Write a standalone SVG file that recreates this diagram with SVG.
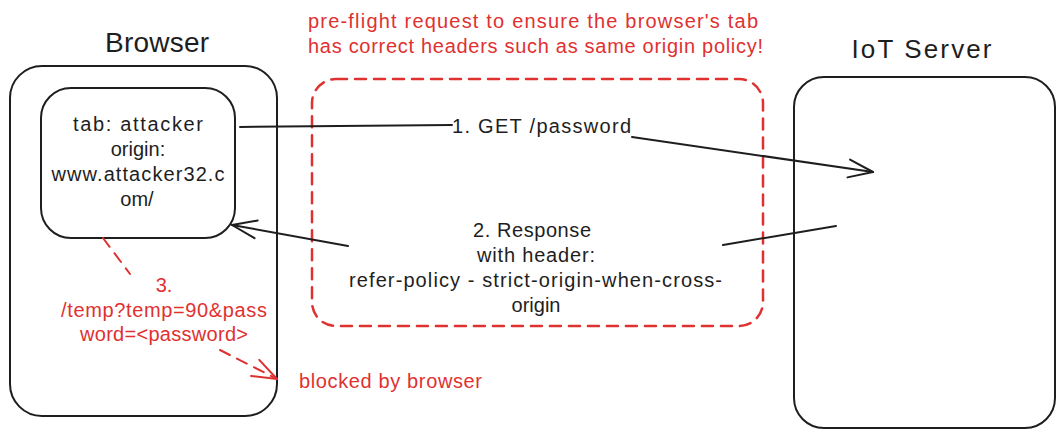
<svg xmlns="http://www.w3.org/2000/svg" width="1064" height="438" viewBox="0 0 1064 438">
<style>
text{font-family:"Liberation Sans",Arial,sans-serif;font-size:20px;fill:#1e1e1e}
.red{fill:#e03131}
.box{fill:none;stroke:#1e1e1e;stroke-width:2}
.dash{fill:none;stroke:#e03131;stroke-width:2.5;stroke-dasharray:11 8;stroke-linecap:round}
.edge{fill:none;stroke:#1e1e1e;stroke-width:2;stroke-linecap:round}
.redge{fill:none;stroke:#e03131;stroke-width:2;stroke-dasharray:11 8;stroke-linecap:round}
.c{text-anchor:middle}
</style>
<defs>
<marker id="ah" markerUnits="userSpaceOnUse" markerWidth="30" markerHeight="30" viewBox="-28 -15 30 30" refX="0" refY="0" orient="auto" overflow="visible">
<path d="M-24.5,-9 L0,0 L-24.5,9" fill="none" stroke="#1e1e1e" stroke-width="2" stroke-linecap="round" stroke-linejoin="round"/>
</marker>
<marker id="ahr" markerUnits="userSpaceOnUse" markerWidth="30" markerHeight="30" viewBox="-28 -15 30 30" refX="0" refY="0" orient="auto" overflow="visible">
<path d="M-24.5,-9 L0,0 L-24.5,9" fill="none" stroke="#e03131" stroke-width="2" stroke-linecap="round" stroke-linejoin="round" stroke-dasharray="none"/>
</marker>
</defs>
<rect width="1064" height="438" fill="#ffffff"/>

<g id="preflight">
<rect class="dash" x="312" y="79" width="451" height="247" rx="24"/>
<text class="red c" x="533" y="28" textLength="450">pre-flight request to ensure the browser's tab</text>
<text class="red c" x="535.5" y="53" textLength="455">has correct headers such as same origin policy!</text>
</g>

<g id="browser">
<rect class="box" x="10" y="66" width="267" height="350" rx="32"/>
<text class="c" x="157" y="52" style="font-size:28px" textLength="104">Browser</text>
</g>

<g id="tab">
<rect class="box" x="41" y="88" width="194" height="150" rx="30"/>
<text class="c" x="138" y="131" textLength="130">tab: attacker</text>
<text class="c" x="138" y="156">origin:</text>
<text class="c" x="138" y="181" textLength="173">www.attacker32.c</text>
<text class="c" x="137" y="206">om/</text>
</g>

<g id="server">
<rect class="box" x="794" y="77" width="261" height="351" rx="30"/>
<text class="c" x="921.5" y="58" style="font-size:26px" textLength="140">IoT Server</text>
</g>

<g id="blocked">
<text class="red" x="299" y="388" textLength="183">blocked by browser</text>
</g>

<g id="connectors">
<g id="edge-get">
<path class="edge" d="M240,127 L452,125"/>
<path class="edge" d="M632,137 L873,172" marker-end="url(#ah)"/>
<text class="c" x="541.5" y="133" textLength="179">1. GET /password</text>
</g>
<g id="edge-response">
<path class="edge" d="M836,226 L723,245"/>
<path class="edge" d="M348,246 L232,225" marker-end="url(#ah)"/>
<text class="c" x="532" y="237" textLength="118">2. Response</text>
<text class="c" x="536" y="262" textLength="118">with header:</text>
<text class="c" x="535.5" y="287" textLength="373">refer-policy - strict-origin-when-cross-</text>
<text class="c" x="536" y="312">origin</text>
</g>
<g id="edge-exfil">
<path class="redge" d="M103,238 L130,274"/>
<path class="redge" d="M220,350 L277,379" marker-end="url(#ahr)"/>
<text class="red c" x="164" y="292">3.</text>
<text class="red c" x="164" y="317" textLength="206">/temp?temp=90&amp;pass</text>
<text class="red c" x="164" y="341" textLength="168">word=&lt;password&gt;</text>
</g>
</g>
</svg>
